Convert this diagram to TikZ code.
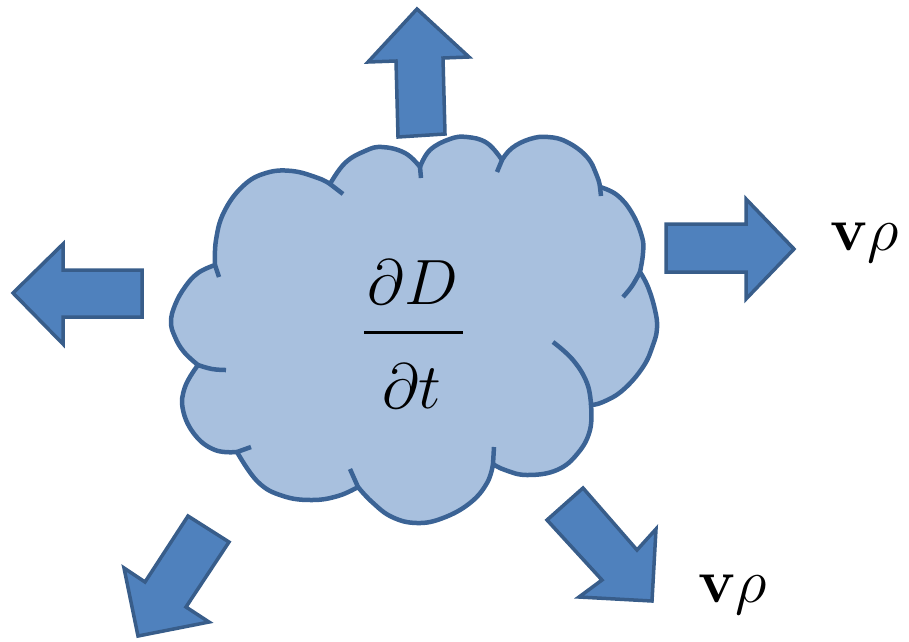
\RequirePackage{fix-cm}
\documentclass[tikz,border=0pt]{standalone}
\usepackage{amsmath}
\definecolor{arrowfill}{HTML}{4F81BD}
\definecolor{arrowline}{HTML}{385D8A}
\definecolor{cloudfill}{HTML}{A8C0DE}
\definecolor{cloudline}{HTML}{3B6395}
\tikzset{
  blockarrow/.style={fill=arrowfill, draw=arrowline, line width=3.5pt, line join=miter},
  cloudbody/.style={fill=cloudfill, draw=cloudline, line width=4.5pt, line join=round},
  cloudhook/.style={draw=cloudline, line width=4.5pt, line cap=butt},
  lobe/.style={smooth, tension=0.7},
  bigmath/.style={inner sep=0pt, font=\fontsize{64}{70}\selectfont},
  flux/.style={inner sep=0pt, font=\fontsize{62}{70}\selectfont}
}
\begin{document}
\begin{tikzpicture}[x=1pt,y=-1pt]
\useasboundingbox (0,0) rectangle (909,641);
% cloud body
\path[cloudbody]
  plot[lobe] coordinates {(198,365) (184,352) (175,337) (171,322) (175,305) (185,287) (198,273) (215,265)}
  -- plot[lobe] coordinates {(215,265) (216,240) (224,212) (243,186) (266,173) (292,171) (318,178) (330,184)}
  -- plot[lobe] coordinates {(330,184) (345,163) (365,151) (382,147) (405,153) (420,167)}
  -- plot[lobe] coordinates {(420,167) (430,150) (450,139) (467,137) (487,143) (502,160)}
  -- plot[lobe] coordinates {(502,160) (512,148) (530,139) (548,137) (567,142) (587,157) (597,176) (600,187)}
  -- plot[lobe] coordinates {(600,187) (617,195) (632,213) (642,237) (643,253) (640,272)}
  -- plot[lobe] coordinates {(640,272) (648,287) (655,310) (657,328) (653,345) (643,367) (623,390) (603,402) (591,405)}
  -- plot[lobe] coordinates {(591,405) (590,430) (578,453) (557,470) (527,475) (505,470) (493,464)}
  -- plot[lobe] coordinates {(493,464) (487,483) (470,503) (443,518) (417,523) (392,517) (372,502) (358,487)}
  -- plot[lobe] coordinates {(358,487) (338,496) (312,500) (283,496) (258,482) (237,452)}
  -- plot[lobe] coordinates {(237,452) (215,450) (195,435) (183,410) (185,387) (198,365)}
  -- cycle;
% inner hooks of the cloud
\draw[cloudhook] (215,265) -- (219,277);
\draw[cloudhook] (330,184) -- (343,194);
\draw[cloudhook] (420,167) -- (421,178);
\draw[cloudhook] (502,160) -- (497,172);
\draw[cloudhook] (600,187) -- (601,196);
\draw[cloudhook] plot[lobe] coordinates {(640,272) (632,286) (623,297)};
\draw[cloudhook] plot[lobe] coordinates {(591,405) (587,383) (573,360) (553,342)};
\draw[cloudhook] (493,464) -- (494,447);
\draw[cloudhook] (358,487) -- (350,469);
\draw[cloudhook] (237,452) -- (251,447);
\draw[cloudhook] plot[lobe] coordinates {(198,365) (212,369) (226,370)};
% block arrows
\draw[blockarrow] (417,9) -- (469,57) -- (443,58) -- (445,134) -- (398,137) -- (396,61) -- (368,62) -- cycle;
\draw[blockarrow] (666,224) -- (746,224) -- (746,199) -- (794,249) -- (746,299) -- (746,272) -- (666,272) -- cycle;
\draw[blockarrow] (13,293) -- (63,244) -- (63,270) -- (142,270) -- (142,317) -- (63,317) -- (63,344) -- cycle;
\draw[blockarrow] (188,516) -- (229,542) -- (186,607) -- (209,622) -- (138,636) -- (124,568) -- (145,582) -- cycle;
\draw[blockarrow] (547,520) -- (583,488) -- (637,550) -- (656,529) -- (652,601) -- (579,597) -- (602,580) -- cycle;
% fraction
\node[bigmath, anchor=base] (num) at (413,304) {$\partial D$};
\coordinate (ruleL) at (364,332);
\coordinate (ruleR) at (463,332);
\draw[line width=3pt] (ruleL) -- (ruleR);
\node[bigmath, anchor=base] (den) at (412,408) {$\partial t$};
% labels
\node[flux, anchor=base west] (fluxR) at (830,250) {$\mathbf{v}\rho$};
\node[flux, anchor=base west] (fluxB) at (698,602) {$\mathbf{v}\rho$};
\end{tikzpicture}
\end{document}
